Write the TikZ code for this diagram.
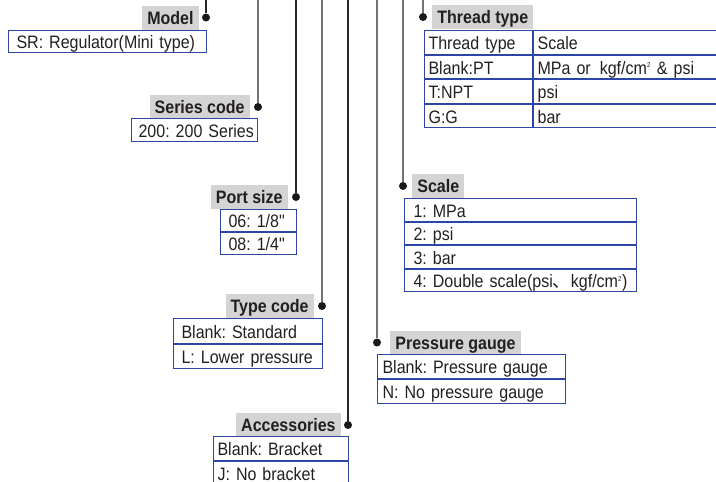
\documentclass[tikz,border=0pt]{standalone}
\usepackage{fontspec}
\setmainfont{Liberation Sans}[FakeStretch=0.89, Ligatures=TeXOff]
\newfontfamily\cjk{Noto Sans CJK SC}
\usetikzlibrary{positioning}
\frenchspacing

\definecolor{boxblue}{RGB}{45,70,165}
\definecolor{tagfill}{RGB}{212,212,212}
\definecolor{inkgray}{RGB}{35,31,32}
\newcommand\cmsq{cm\textsuperscript{\fontsize{7}{7}\selectfont 2}}

\tikzset{
    lead/.style={line width=1.2pt, draw=black!85},
    leadgray/.style={lead, draw=black!55},
    dot/.style={circle, fill=black!90, inner sep=0pt, minimum size=8pt},
    tag/.style={fill=tagfill, font=\fontsize{18}{20}\selectfont\bfseries, inner xsep=5pt, inner ysep=0pt,
	minimum height=24pt, text height=13.5pt, text depth=0pt},
    cell/.style={draw=boxblue, line width=1.1pt, anchor=north west, align=left,
	inner xsep=#1, inner ysep=0pt, text height=14.5pt, text depth=0pt},
    cell/.default=5pt
}

\begin{document}
\begin{tikzpicture}[x=1pt, y=-1pt, font=\fontsize{18}{20}\selectfont, text=inkgray]
    \useasboundingbox (0, 0) rectangle (716, 482);
    \clip (0, 0) rectangle (716, 482);

    \coordinate (mtop) at (206, 0);
    \coordinate (stop) at (258, 0);
    \coordinate (ptop) at (296, 0);
    \coordinate (ttop) at (322, 0);
    \coordinate (atop) at (348, 0);
    \coordinate (gtop) at (377, 0);
    \coordinate (ctop) at (403, 0);
    \coordinate (htop) at (423, 0);

    \node [dot] (mdot) at (206, 17.5) {};
    \node [dot] (sdot) at (258, 107) {};
    \node [dot] (pdot) at (296, 197) {};
    \node [dot] (tdot) at (322, 306) {};
    \node [dot] (adot) at (348, 425) {};
    \node [dot] (gdot) at (377, 342.5) {};
    \node [dot] (cdot) at (403, 186) {};
    \node [dot] (hdot) at (423, 17) {};

    \draw [lead] (mtop) -- (mdot);
    \draw [leadgray] (stop) -- (sdot);
    \draw [lead] (ptop) -- (pdot);
    \draw [leadgray] (ttop) -- (tdot);
    \draw [lead] (atop) -- (adot);
    \draw [leadgray] (gtop) -- (gdot);
    \draw [leadgray] (ctop) -- (cdot);
    \draw [leadgray] (htop) -- (hdot);

    \node [tag, left=3pt of mdot] (mtag) {Model};
    \node [tag, left=4pt of sdot] (stag) {Series code};
    \node [tag, left=4pt of pdot] (ptag) {Port size};
    \node [tag, left=4pt of tdot] (ttag) {Type code};
    \node [tag, left=3pt of adot] (atag) {Accessories};
    \node [tag, right=9pt of gdot] (gtag) {Pressure gauge};
    \node [tag, right=5pt of cdot] (ctag) {Scale};
    \node [tag, right=5pt of hdot] (htag) {Thread type};

    \node [cell=8pt, text width=182pt, minimum height=22pt] (sr) at (8, 30) {\mbox{SR: Regulator(Mini type)}};

    \node [cell=7pt, text width=112pt, minimum height=23pt] (s200) at (131, 118) {\mbox{200: 200 Series}};

    \node [cell=8pt, text width=60pt, minimum height=22pt] (p06) at (220, 209) {06: 1/8"};
    \node [cell=8pt, text width=60pt, minimum height=22pt, below=0pt of p06] (p08) {08: 1/4"};

    \node [cell=8pt, text width=133pt, minimum height=24.5pt] (tstd) at (173, 318) {\mbox{Blank: Standard}};
    \node [cell=8pt, text width=133pt, minimum height=24.5pt, below=0pt of tstd] (tlow) {\mbox{L: Lower pressure}};

    \node [cell=4pt, text width=127pt, minimum height=24pt] (abr) at (213, 436) {Blank: Bracket};
    \node [cell=4pt, text width=127pt, minimum height=24pt, below=0pt of abr] (anob) {J: No bracket};

    \node [cell=5pt, text width=178pt, minimum height=24pt] (gyes) at (377, 354) {\mbox{Blank: Pressure gauge}};
    \node [cell=5pt, text width=178pt, minimum height=24pt, below=0pt of gyes] (gno) {\mbox{N: No pressure gauge}};

    \node [cell=9pt, text width=214pt, minimum height=22.5pt] (c1) at (404, 198) {1: MPa};
    \node [cell=9pt, text width=214pt, minimum height=22.5pt, below=0pt of c1] (c2) {2: psi};
    \node [cell=9pt, text width=214pt, minimum height=22.5pt, below=0pt of c2] (c3) {3: bar};
    \node [cell=9pt, text width=214pt, minimum height=22.5pt, below=0pt of c3] (c4)
	{\mbox{4: Double scale(psi{\cjk 、}kgf/\cmsq)}};

    \node [cell=4pt, text width=100pt, minimum height=23.5pt] (h1) at (424, 30) {Thread type};
    \node [cell=4pt, text width=100pt, minimum height=23.5pt, below=0pt of h1] (h2) {Blank:PT};
    \node [cell=4pt, text width=100pt, minimum height=23.5pt, below=0pt of h2] (h3) {T:NPT};
    \node [cell=4pt, text width=100pt, minimum height=23.5pt, below=0pt of h3] (h4) {G:G};
    \node [cell=4pt, text width=210pt, minimum height=23.5pt, right=0pt of h1] (k1) {Scale};
    \node [cell=4pt, text width=210pt, minimum height=23.5pt, right=0pt of h2] (k2)
	{\mbox{MPa or\enspace kgf/\cmsq\ \& psi}};
    \node [cell=4pt, text width=210pt, minimum height=23.5pt, right=0pt of h3] (k3) {psi};
    \node [cell=4pt, text width=210pt, minimum height=23.5pt, right=0pt of h4] (k4) {bar};
\end{tikzpicture}
\end{document}
